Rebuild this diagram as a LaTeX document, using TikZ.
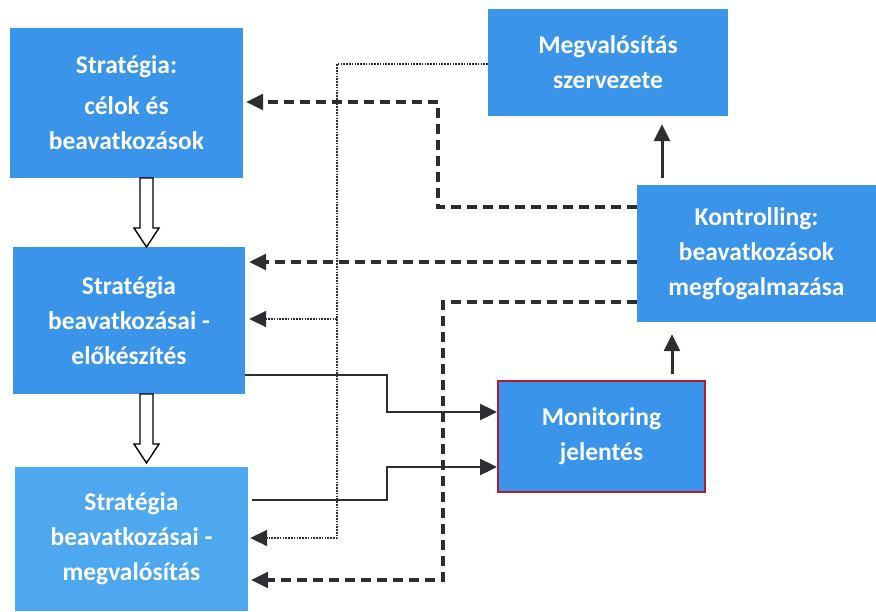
\documentclass[tikz,border=0pt]{standalone}
\usepackage{fontspec}
\setmainfont{Carlito}
\usetikzlibrary{arrows.meta,calc}
\definecolor{boxblue}{RGB}{58,148,234}
\definecolor{boxlight}{RGB}{78,168,240}
\definecolor{lineg}{RGB}{45,45,50}
\definecolor{monred}{RGB}{176,30,45}
\begin{document}
\begin{tikzpicture}[x=1pt,y=-1pt,
  box/.style={fill=boxblue, draw=none, inner sep=0pt, align=center, text=white,
    font=\fontsize{25.5}{35}\selectfont\bfseries},
  tipa/.style={-{Triangle[length=17pt,width=16pt]}},
  dashl/.style={draw=lineg, line width=3.2pt, dash pattern=on 10pt off 6pt, tipa},
  dotl/.style={draw=lineg, line width=1.8pt, dash pattern=on 1.6pt off 1.2pt, tipa},
  solidl/.style={draw=lineg, line width=2.4pt, tipa},
  upl/.style={draw=lineg, line width=3pt, tipa},
  hollow/.style={draw=black, line width=1.4pt, fill=white, line join=miter}]
\useasboundingbox (0,0) rectangle (876,611);

% boxes
\node[box, minimum width=233pt, minimum height=150pt] (b1) at (126.5,103)
  {Stratégia:\\[6pt]célok és\\beavatkozások};
\node[box, minimum width=232pt, minimum height=147pt] (b2) at (129,320.5)
  {Stratégia\\beavatkozásai -\\előkészítés};
\node[box, fill=boxlight, minimum width=233pt, minimum height=144pt] (b3) at (131.5,539)
  {Stratégia\\beavatkozásai -\\megvalósítás};
\node[box, minimum width=240pt, minimum height=107pt] (meg) at (608,62.5)
  {Megvalósítás\\szervezete};
\node[box, minimum width=239pt, minimum height=137pt] (kon) at (756.5,253.5)
  {Kontrolling:\\beavatkozások\\megfogalmazása};
\node[box, draw=monred, line width=2pt, minimum width=207pt, minimum height=111pt] (mon) at (601.5,436.5)
  {Monitoring\\jelentés};

% hollow arrows
\draw[hollow] (140,178) -- (153,178) -- (153,228) -- (159,228) -- (146.5,247)
  -- (134,228) -- (140,228) -- cycle;
\draw[hollow] (140,394) -- (153,394) -- (153,444) -- (159,444) -- (146.5,463)
  -- (134,444) -- (140,444) -- cycle;

% coordinates for bends
\coordinate (jd) at (337,538);
\coordinate (jb) at (337,319);
\coordinate (d1) at (438,102);
\coordinate (d3) at (443,580);
\coordinate (s1) at (387,412);
\coordinate (s2) at (387,467);

% dotted connectors
\draw[dotl, shorten >=2pt] (meg.west |- 0,64) -| (jd) -- (b3.east |- jd);
\draw[dotl, shorten >=4pt] (jb) -- (b2.east |- jb);

% dashed connectors
\draw[dashl, shorten >=3pt] (kon.west |- 0,207) -| (d1) -- (b1.east |- d1);
\draw[dashl, shorten >=4pt] (kon.west |- 0,262) -- (b2.east |- 0,262);
\draw[dashl, shorten >=3pt] (kon.west |- 0,302) -| (d3) -- (b3.east |- d3);

% solid connectors
\draw[solidl] (b2.east |- 0,375) -| (s1) -- (mon.west |- s1);
\draw[solidl, shorten <=4pt] (b3.east |- 0,500) -| (s2) -- (mon.west |- s2);

% upward arrows
\draw[upl, shorten <=6pt, shorten >=12pt] (mon.north -| 672,0) -- (kon.south -| 672,0);
\draw[upl, shorten <=7pt, shorten >=8pt] (kon.north -| 662,0) -- (meg.south -| 662,0);
\end{tikzpicture}
\end{document}
